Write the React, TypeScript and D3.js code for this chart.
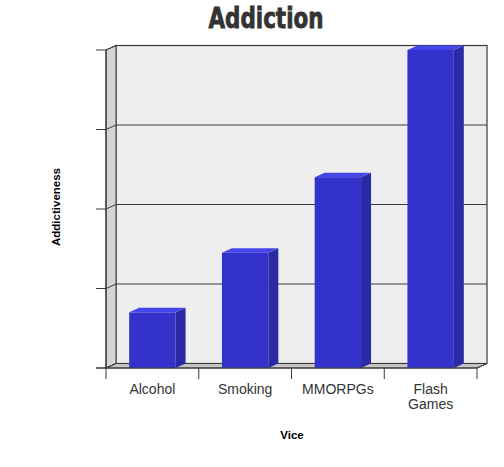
import React from "react";
import * as d3 from "d3";

const categories = ["Alcohol", "Smoking", "MMORPGs", "Flash Games"];
const values = [0.7, 1.45, 2.4, 4.0];
const yTicks = [0, 1, 2, 3, 4];

const W = 504, H = 467;
const X0 = 106, X1 = 477, Y0 = 368, Y1 = 50;
const DX = 10, DY = -4.5;

export default function App() {
  const x = d3.scaleBand<string>().domain(categories).range([X0, X1]).paddingInner(0).paddingOuter(0);
  const y = d3.scaleLinear().domain([0, 4]).range([Y0, Y1]);
  const bw = x.bandwidth() * 0.5;
  const line = "#3a3a3a";
  const pts = (p: number[][]) => p.map((q) => q.join(",")).join(" ");

  return (
    <svg width={W} height={H} style={{ position: "absolute", left: 0, top: 0, background: "#fff" }}>
      <text x={266} y={28} textAnchor="middle" fontFamily="'Liberation Sans Narrow', 'DejaVu Sans Condensed', Arial, sans-serif" fontWeight="bold" fontSize={29} fill="#333" textLength={115} lengthAdjust="spacingAndGlyphs" stroke="#333" strokeWidth={0.8}>Addiction</text>
      {/* back wall */}
      <rect x={X0 + DX} y={Y1 + DY} width={X1 - X0} height={Y0 - Y1} fill="#eeeeee" stroke={line} strokeWidth={1.2} />
      {/* left wall */}
      <polygon points={pts([[X0, Y1], [X0 + DX, Y1 + DY], [X0 + DX, Y0 + DY], [X0, Y0]])} fill="#d4d4d4" stroke={line} strokeWidth={1} />
      {/* floor */}
      <polygon points={pts([[X0, Y0], [X0 + DX, Y0 + DY], [X1 + DX, Y0 + DY], [X1, Y0]])} fill="#c4c4c4" stroke={line} strokeWidth={1} />
      {/* grid lines */}
      {yTicks.map((t) => (
        <g key={t}>
          <line x1={X0 + DX} x2={X1 + DX} y1={y(t) + DY} y2={y(t) + DY} stroke={line} strokeWidth={1.2} />
          <line x1={X0} x2={X0 + DX} y1={y(t)} y2={y(t) + DY} stroke={line} strokeWidth={1} />
          <line x1={X0 - 10} x2={X0} y1={y(t)} y2={y(t)} stroke={line} strokeWidth={1} />
        </g>
      ))}
      {/* bars */}
      {categories.map((c, i) => {
        const cx = (x(c) as number) + x.bandwidth() / 2;
        const l = cx - bw / 2, r = cx + bw / 2;
        const top = y(values[i]);
        return (
          <g key={c}>
            <polygon points={pts([[r, top], [r + DX, top + DY], [r + DX, Y0 + DY], [r, Y0]])} fill="#2a2aa6" />
            <polygon points={pts([[l, top], [l + DX, top + DY], [r + DX, top + DY], [r, top]])} fill="#4545ea" />
            <rect x={l} y={top} width={bw} height={Y0 - top} fill="#3333cc" />
          </g>
        );
      })}
      {/* axes */}
      <line x1={X0} x2={X0} y1={Y1} y2={Y0} stroke={line} strokeWidth={1.2} />
      <line x1={X0 - 10} x2={X1} y1={Y0} y2={Y0} stroke={line} strokeWidth={1.2} />
      <line x1={X1} x2={X1 + DX} y1={Y0} y2={Y0 + DY} stroke={line} strokeWidth={1} />
      {[...categories.map((c) => x(c) as number), X1].map((v, i) => (
        <line key={i} x1={v} x2={v} y1={Y0} y2={Y0 + 11} stroke={line} strokeWidth={1} />
      ))}
      {categories.map((c) => {
        const cx = (x(c) as number) + x.bandwidth() / 2;
        const parts = c === "Flash Games" ? ["Flash", "Games"] : [c];
        return (
          <text key={c} x={cx} y={394} textAnchor="middle" fontFamily="Arial, 'Liberation Sans', sans-serif" fontSize={14} fill="#333">
            {parts.map((p, j) => (
              <tspan key={j} x={cx} dy={j === 0 ? 0 : 15}>{p}</tspan>
            ))}
          </text>
        );
      })}
      <text transform="translate(60,207) rotate(-90)" textAnchor="middle" fontFamily="Arial, 'Liberation Sans', sans-serif" fontWeight="bold" fontSize={11.5} fill="#000">Addictiveness</text>
      <text x={292} y={439} textAnchor="middle" fontFamily="Arial, 'Liberation Sans', sans-serif" fontWeight="bold" fontSize={11.5} fill="#000">Vice</text>
    </svg>
  );
}
